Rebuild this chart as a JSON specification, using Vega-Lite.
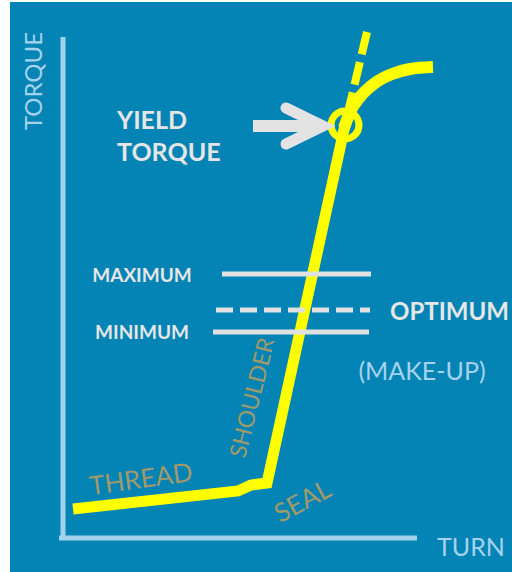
{
  "$schema": "https://vega.github.io/schema/vega-lite/v6.json",
  "width": 512,
  "height": 572,
  "autosize": {"type": "none"},
  "padding": 0,
  "background": "#ffffff",
  "config": {"view": {"stroke": null}, "font": "Lato"},
  "encoding": {
    "x": {"field": "turn", "type": "quantitative", "scale": {"domain": [-63, 449], "nice": false, "zero": false}, "axis": null},
    "y": {"field": "torque", "type": "quantitative", "scale": {"domain": [-34, 538], "nice": false, "zero": false}, "axis": null}
  },
  "layer": [
    {
      "data": {"values": [{"turn": -53, "turn2": 449, "torque": -34, "torque2": 536}]},
      "mark": {"type": "rect", "fill": "#0483b5"},
      "encoding": {"x2": {"field": "turn2"}, "y2": {"field": "torque2"}}
    },
    {
      "data": {"values": [
        {"axis": "torque", "turn": 0, "turn2": 0, "torque": -2, "torque2": 501},
        {"axis": "turn", "turn": -4, "turn2": 354, "torque": 0, "torque2": 0}
      ]},
      "mark": {"type": "rule", "stroke": "#a2d1ea", "strokeWidth": 5},
      "encoding": {"x2": {"field": "turn2"}, "y2": {"field": "torque2"}}
    },
    {
      "data": {"values": [
        {"turn": 10, "torque": 29},
        {"turn": 175, "torque": 47},
        {"turn": 188, "torque": 53},
        {"turn": 204, "torque": 55},
        {"turn": 282, "torque": 413}
      ]},
      "mark": {"type": "line", "stroke": "#ffff00", "strokeWidth": 11, "strokeJoin": "miter", "strokeCap": "butt"},
      "encoding": {}
    },
    {
      "data": {"values": [
        {"turn": 281, "torque": 410},
        {"turn": 287, "torque": 426},
        {"turn": 297, "torque": 441},
        {"turn": 312, "torque": 455},
        {"turn": 329, "torque": 464},
        {"turn": 347, "torque": 469},
        {"turn": 370, "torque": 471}
      ]},
      "mark": {"type": "line", "stroke": "#ffff00", "strokeWidth": 12, "interpolate": "monotone", "strokeCap": "butt"},
      "encoding": {}
    },
    {
      "data": {"values": [
        {"o": 1, "turn": 304, "torque": 506},
        {"o": 2, "turn": 282, "torque": 413}
      ]},
      "mark": {"type": "line", "stroke": "#ffff00", "strokeWidth": 8, "strokeDash": [23, 8], "strokeCap": "butt"},
      "encoding": {"order": {"field": "o", "type": "quantitative"}}
    },
    {
      "data": {"values": [{"turn": 282, "torque": 413}]},
      "mark": {"type": "point", "shape": "circle", "filled": false, "stroke": "#ffff00", "strokeWidth": 7, "size": 784, "opacity": 1},
      "encoding": {}
    },
    {
      "data": {"values": [{"turn": 190, "turn2": 256, "torque": 412}]},
      "mark": {"type": "rule", "stroke": "#e3e3e3", "strokeWidth": 12, "strokeCap": "butt"},
      "encoding": {"x2": {"field": "turn2"}}
    },
    {
      "data": {"values": [
        {"o": 1, "turn": 223, "torque": 430},
        {"o": 2, "turn": 260, "torque": 412},
        {"o": 3, "turn": 223, "torque": 394}
      ]},
      "mark": {"type": "line", "stroke": "#e3e3e3", "strokeWidth": 11, "strokeCap": "round", "strokeJoin": "miter"},
      "encoding": {"order": {"field": "o", "type": "quantitative"}}
    },
    {
      "data": {"values": [
        {"level": "maximum", "style": "solid", "turn": 159, "turn2": 308, "torque": 264},
        {"level": "optimum", "style": "dashed", "turn": 153, "turn2": 307, "torque": 228},
        {"level": "minimum", "style": "solid", "turn": 150, "turn2": 306, "torque": 206}
      ]},
      "mark": {"type": "rule", "stroke": "#e0e0e0", "strokeWidth": 5, "strokeCap": "butt"},
      "encoding": {
        "x2": {"field": "turn2"},
        "strokeDash": {"field": "style", "type": "nominal", "scale": {"domain": ["solid", "dashed"], "range": [[1, 0], [17, 7]]}, "legend": null}
      }
    },
    {
      "data": {"values": [{"label": "TORQUE", "turn": -28, "torque": 457}]},
      "mark": {"type": "text", "angle": 270, "fontSize": 24, "color": "#a6d3ec", "align": "center", "baseline": "middle"},
      "encoding": {"text": {"field": "label"}}
    },
    {
      "data": {"values": [{"label": "TURN", "turn": 408, "torque": -10}]},
      "mark": {"type": "text", "fontSize": 25, "color": "#a6d3ec", "align": "center", "baseline": "middle"},
      "encoding": {"text": {"field": "label"}}
    },
    {
      "data": {"values": [
        {"label": "YIELD", "turn": 54, "torque": 417},
        {"label": "TORQUE", "turn": 54, "torque": 385}
      ]},
      "mark": {"type": "text", "fontSize": 25, "fontWeight": "bold", "color": "#e6e6e6", "align": "left", "baseline": "middle"},
      "encoding": {"text": {"field": "label"}}
    },
    {
      "data": {"values": [
        {"label": "MAXIMUM", "turn": 79, "torque": 262},
        {"label": "MINIMUM", "turn": 79, "torque": 205}
      ]},
      "mark": {"type": "text", "fontSize": 19, "fontWeight": "bold", "color": "#e6e6e6", "align": "center", "baseline": "middle"},
      "encoding": {"text": {"field": "label"}}
    },
    {
      "data": {"values": [{"label": "OPTIMUM", "turn": 327, "torque": 225}]},
      "mark": {"type": "text", "fontSize": 24, "fontWeight": "bold", "color": "#e6e6e6", "align": "left", "baseline": "middle"},
      "encoding": {"text": {"field": "label"}}
    },
    {
      "data": {"values": [{"label": "(MAKE-UP)", "turn": 359, "torque": 166}]},
      "mark": {"type": "text", "fontSize": 25, "color": "#a6d3ec", "align": "center", "baseline": "middle"},
      "encoding": {"text": {"field": "label"}}
    },
    {
      "data": {"values": [{"label": "THREAD", "turn": 78, "torque": 58}]},
      "mark": {"type": "text", "fontSize": 26, "angle": 352, "color": "#a09a6a", "align": "center", "baseline": "middle"},
      "encoding": {"text": {"field": "label"}}
    },
    {
      "data": {"values": [{"label": "SHOULDER", "turn": 190, "torque": 140}]},
      "mark": {"type": "text", "fontSize": 23, "angle": 284, "color": "#a09a6a", "align": "center", "baseline": "middle"},
      "encoding": {"text": {"field": "label"}}
    },
    {
      "data": {"values": [{"label": "SEAL", "turn": 240, "torque": 36}]},
      "mark": {"type": "text", "fontSize": 26, "angle": 332, "color": "#a09a6a", "align": "center", "baseline": "middle"},
      "encoding": {"text": {"field": "label"}}
    }
  ]
}
